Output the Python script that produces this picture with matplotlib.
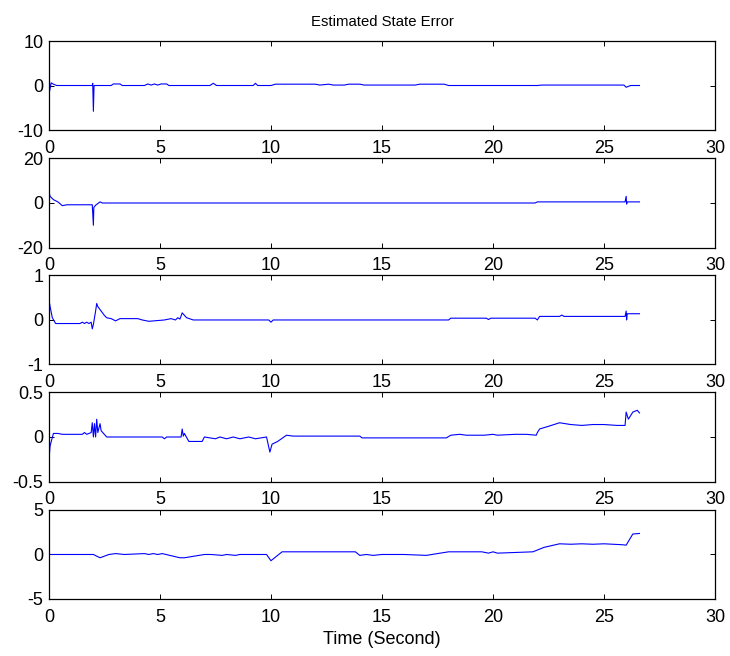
import matplotlib
matplotlib.use("Agg")
import matplotlib.pyplot as plt
from matplotlib.ticker import FormatStrFormatter

plt.rcParams["font.family"] = ["Liberation Sans", "DejaVu Sans"]
plt.rcParams["font.size"] = 13
plt.rcParams["axes.unicode_minus"] = False

# state error traces, (time, value) knots for each state
t1 = [0, 0.03, 0.1, 0.2, 0.35, 0.5, 1.95, 1.97, 2.0, 2.03, 2.06, 2.8, 2.9, 3.2, 3.3,
      4.3, 4.45, 4.6, 4.75, 4.9, 5.05, 5.3, 5.4, 7.25, 7.4, 7.55, 9.2, 9.3, 9.4,
      10.0, 10.2, 12.0, 12.2, 12.6, 12.8, 13.3, 13.5, 14.0, 14.2, 16.5, 16.7,
      17.8, 18.0, 22.0, 22.2, 25.9, 26.0, 26.2, 26.6]
e1 = [7.5, -1.2, 0.6, 0.3, 0.0, 0.0, 0.0, 0.5, -5.8, 0.0, 0.0, 0.0, 0.35, 0.35, 0.0,
      0.0, 0.35, 0.1, 0.35, 0.1, 0.35, 0.35, 0.0, 0.0, 0.5, 0.0, 0.0, 0.5, 0.0,
      0.0, 0.3, 0.3, 0.1, 0.3, 0.1, 0.1, 0.3, 0.3, 0.1, 0.1, 0.3,
      0.3, 0.0, 0.0, 0.1, 0.1, -0.4, 0.0, 0.0]

t2 = [0, 0.05, 0.2, 0.4, 0.6, 0.8, 1.95, 2.0, 2.02, 2.1, 2.3, 2.4, 21.9, 22.0,
      25.95, 26.0, 26.02, 26.05, 26.6]
e2 = [5.0, 3.0, 1.5, 0.5, -1.2, -0.8, -0.8, -10.0, -2.0, -1.0, 0.5, 0.0, 0.0, 0.5,
      0.5, 3.0, -0.5, 0.5, 0.5]

t3 = [0, 0.05, 0.15, 0.3, 0.5, 1.4, 1.5, 1.6, 1.7, 1.8, 1.9, 1.95, 2.0, 2.1, 2.15,
      2.2, 2.35, 2.5, 2.6, 2.8, 3.0, 3.2, 4.0, 4.2, 4.5, 5.2, 5.5, 5.7, 5.8, 5.9,
      6.0, 6.2, 6.5, 9.9, 10.0, 10.1, 10.3, 18.0, 18.1, 19.7, 19.8, 19.9, 21.9,
      22.0, 22.1, 23.0, 23.1, 23.2, 25.95, 26.0, 26.02, 26.05, 26.6]
e3 = [0.45, 0.3, 0.05, -0.08, -0.08, -0.08, -0.05, -0.08, -0.05, -0.08, -0.05, -0.2,
      -0.1, 0.2, 0.37, 0.3, 0.2, 0.1, 0.05, 0.03, -0.02, 0.03, 0.03, 0.0, -0.03,
      0.0, 0.03, 0.0, 0.05, 0.02, 0.16, 0.05, 0.0, 0.0, -0.05, 0.0, 0.0, 0.0, 0.04,
      0.04, 0.01, 0.04, 0.04, 0.0, 0.08, 0.08, 0.11, 0.08, 0.08, 0.2, 0.0, 0.14,
      0.14]

t4 = [0, 0.05, 0.2, 0.4, 0.6, 1.5, 1.6, 1.7, 1.9, 1.95, 2.0, 2.05, 2.1, 2.15, 2.2,
      2.3, 2.35, 2.6, 5.1, 5.2, 5.3, 5.95, 6.0, 6.05, 6.1, 6.3, 6.9, 7.0, 7.5, 7.7,
      8.0, 8.3, 8.6, 9.0, 9.3, 9.8, 9.95, 10.05, 10.3, 10.7, 11.0, 14.0, 14.1,
      17.9, 18.1, 18.5, 18.8, 19.6, 20.0, 20.2, 21.0, 21.5, 21.95, 22.0, 22.1,
      22.5, 23.0, 23.5, 24.0, 24.5, 25.0, 25.6, 25.95, 26.0, 26.1, 26.3, 26.5,
      26.6]
e4 = [-0.25, -0.1, 0.04, 0.04, 0.03, 0.03, 0.05, 0.03, 0.05, 0.16, 0.0, 0.15,
      0.0, 0.2, 0.05, 0.15, 0.07, 0.0, 0.0, -0.02, 0.0, 0.0, 0.09, 0.01, 0.04,
      -0.05, -0.05, 0.0, -0.02, 0.0, -0.02, 0.0, -0.02, 0.0, -0.02, 0.0, -0.17,
      -0.08, -0.05, 0.02, 0.01, 0.01, -0.01, -0.01, 0.02, 0.03, 0.02, 0.02, 0.03,
      0.02, 0.03, 0.03, 0.02, 0.05, 0.09, 0.12, 0.16, 0.14, 0.13, 0.14, 0.14,
      0.13, 0.13, 0.28, 0.2, 0.28, 0.3, 0.27]

t5 = [0, 2.0, 2.3, 2.7, 3.0, 3.4, 4.3, 4.5, 4.7, 4.9, 5.1, 5.9, 6.1, 7.0, 7.3, 7.8,
      8.0, 8.4, 8.6, 9.0, 9.8, 10.0, 10.5, 13.8, 14.0, 14.3, 14.6, 15.0, 16.0,
      17.0, 17.5, 18.0, 19.5, 19.8, 20.0, 20.2, 21.8, 22.3, 23.0, 23.5, 24.0,
      24.5, 25.0, 25.8, 26.0, 26.3, 26.6]
e5 = [0.0, 0.0, -0.37, 0.0, 0.1, 0.0, 0.1, 0.0, 0.1, 0.0, 0.1, -0.37, -0.37, 0.0,
      0.0, -0.1, 0.0, -0.1, 0.0, 0.0, 0.0, -0.7, 0.3, 0.3, -0.1, 0.0, -0.1, 0.0,
      0.0, -0.1, 0.1, 0.3, 0.3, 0.15, 0.3, 0.15, 0.3, 0.8, 1.2, 1.15, 1.2, 1.15,
      1.2, 1.1, 1.05, 2.3, 2.36]

series = [(t1, e1), (t2, e2), (t3, e3), (t4, e4), (t5, e5)]
y_ranges = [10, 20, 1, 0.5, 5]

fig = plt.figure(figsize=(7.3, 6.56), dpi=100)

left, width, height = 0.0671, 0.9123, 0.1357
bottoms = [0.8018, 0.6227, 0.4444, 0.2660, 0.0869]

axes = []
for (t, e), lim, b in zip(series, y_ranges, bottoms):
    ax = fig.add_axes([left, b, width, height])
    ax.plot(t, e, color="blue", lw=0.8)
    ax.set_xlim(0, 30)
    ax.set_ylim(-lim, lim)
    ax.set_xticks(range(0, 31, 5))
    ax.set_yticks([-lim, 0, lim])
    ax.yaxis.set_major_formatter(FormatStrFormatter("%g"))
    ax.tick_params(direction="in", top=True, right=True, length=3.6,
                   width=0.7, labelsize=13, pad=4)
    ax.tick_params(axis="x", pad=7)
    for s in ax.spines.values():
        s.set_linewidth(0.9)
    axes.append(ax)

axes[0].set_title("Estimated State Error", fontsize=10.7, pad=11)
axes[-1].set_xlabel("Time (Second)", fontsize=13, labelpad=4)

fig.savefig("out.png", dpi=100)
